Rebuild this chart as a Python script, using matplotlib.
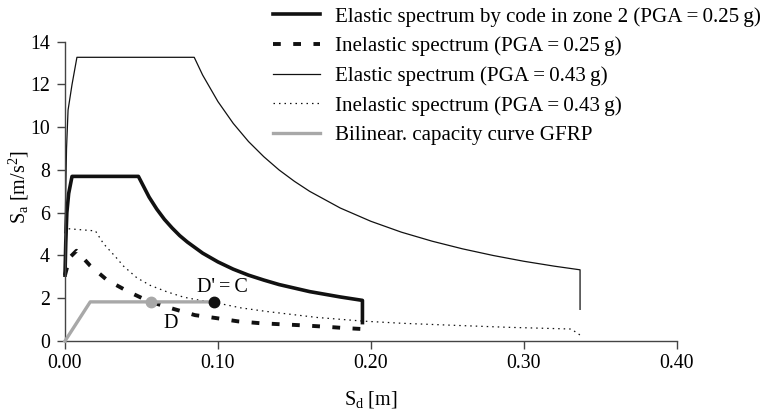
import matplotlib
matplotlib.use("Agg")
import matplotlib.pyplot as plt

plt.rcParams['font.family'] = ['Liberation Serif', 'DejaVu Serif']
plt.rcParams['mathtext.fontset'] = 'custom'
plt.rcParams['mathtext.rm'] = 'Liberation Serif'
plt.rcParams['mathtext.it'] = 'Liberation Serif:italic'

# Elastic spectrum by code in zone 2 (PGA = 0.25 g)
el25_sd = [0.0, 0.0005, 0.0012, 0.0024, 0.0046, 0.048, 0.055, 0.06, 0.065, 0.07, 0.075, 0.08,
           0.09, 0.10, 0.11, 0.12, 0.13, 0.14, 0.16, 0.18, 0.1945, 0.1945]
el25_sa = [3.08, 4.6, 6.0, 6.9, 7.7, 7.7, 6.73, 6.17, 5.69, 5.29, 4.93, 4.63,
           4.11, 3.70, 3.36, 3.08, 2.85, 2.64, 2.31, 2.06, 1.90, 0.86]

# Inelastic spectrum (PGA = 0.25 g)
in25_sd = [0.0, 0.003, 0.0075, 0.0165, 0.0275, 0.0414, 0.055, 0.071, 0.085, 0.099, 0.113,
           0.128, 0.142, 0.156, 0.170, 0.184, 0.1945, 0.1945]
in25_sa = [3.08, 3.9, 4.22, 3.52, 2.85, 2.31, 1.85, 1.50, 1.21, 1.07, 0.92,
           0.83, 0.78, 0.73, 0.67, 0.60, 0.56, 0.28]

# Elastic spectrum (PGA = 0.43 g)
el43_sd = [0.0, 0.001, 0.002, 0.0046, 0.0078, 0.0845, 0.09, 0.10, 0.11, 0.12, 0.13, 0.14,
           0.15, 0.16, 0.18, 0.20, 0.22, 0.24, 0.26, 0.28, 0.30, 0.32, 0.3368, 0.3368]
el43_sa = [5.06, 9.0, 10.8, 12.0, 13.27, 13.27, 12.44, 11.2, 10.18, 9.33, 8.62, 8.0,
           7.47, 7.0, 6.22, 5.6, 5.09, 4.67, 4.31, 4.0, 3.73, 3.5, 3.33, 1.48]

# Inelastic spectrum (PGA = 0.43 g)
in43_sd = [0.0, 0.0024, 0.0199, 0.0252, 0.0329, 0.0383, 0.0471, 0.0558, 0.0667, 0.0776,
           0.0885, 0.0993, 0.115, 0.132, 0.165, 0.195, 0.22, 0.252, 0.29, 0.331, 0.3368]
in43_sa = [5.06, 5.25, 5.15, 4.55, 3.95, 3.5, 2.95, 2.6, 2.3, 2.05,
           1.9, 1.78, 1.55, 1.38, 1.10, 0.93, 0.83, 0.74, 0.64, 0.56, 0.28]

# Bilinear capacity curve GFRP
cap_sd = [0.0, 0.0165, 0.0968]
cap_sa = [0.0, 1.83, 1.83]

pt_D = (0.056, 1.83)
pt_C = (0.0975, 1.83)

labels = ["Elastic spectrum by code in zone 2 (PGA\u2009=\u20090.25\u2009g)",
          "Inelastic spectrum (PGA\u2009=\u20090.25\u2009g)",
          "Elastic spectrum (PGA\u2009=\u20090.43\u2009g)",
          "Inelastic spectrum (PGA\u2009=\u20090.43\u2009g)",
          "Bilinear. capacity curve GFRP"]

fig = plt.figure(figsize=(7.63, 4.13), dpi=100)
ax = fig.add_axes([65/763, 1-341/413, (676.7-65)/763, (341-41.7)/413])

h1, = ax.plot(el25_sd, el25_sa, color='#111111', lw=2.6, clip_on=False, solid_joinstyle='round')
h2, = ax.plot(in25_sd, in25_sa, color='#111111', lw=2.8, clip_on=False)
h2.set_dashes((2.0, 3.2))
h3, = ax.plot(el43_sd, el43_sa, color='#111111', lw=0.9, clip_on=False)
h4, = ax.plot(in43_sd, in43_sa, color='#111111', lw=0.9, ls=(0, (1.2, 3.2)), clip_on=False)
h5, = ax.plot(cap_sd, cap_sa, color='#a8a8a8', lw=2.4, clip_on=False, zorder=3)
ax.plot([pt_D[0]], [pt_D[1]], 'o', color='#a8a8a8', ms=7.5, zorder=4)
ax.plot([pt_C[0]], [pt_C[1]], 'o', color='#111111', ms=7.5, zorder=4)

ax.text(0.1028, 2.52, "D'\u2009=\u2009C", fontsize=14.5, ha='center', va='center')
ax.text(0.0688, 0.83, "D", fontsize=14.5, ha='center', va='center')

ax.set_xlim(0, 0.4)
ax.set_ylim(0, 14)
ax.set_xticks([0.0, 0.1, 0.2, 0.3, 0.4])
ax.set_xticklabels(["0.00", "0.10", "0.20", "0.30", "0.40"])
ax.set_yticks(range(0, 15, 2))
for s in ['top', 'right']:
    ax.spines[s].set_visible(False)
for s in ['left', 'bottom']:
    ax.spines[s].set_color('#444444')
    ax.spines[s].set_linewidth(1.0)
ax.tick_params(axis='both', direction='out', length=5.5, width=1.0, color='#444444',
               labelsize=14.3)
ax.tick_params(axis='y', pad=5.5)
ax.tick_params(axis='x', pad=4)

ax.set_ylabel(r"S$_\mathregular{a}$ [m/s$^\mathregular{2}$]", fontsize=14.5)
ax.set_xlabel(r"S$_\mathregular{d}$ [m]", fontsize=14.5)
ax.yaxis.set_label_coords(-0.056, 0.515)
ax.xaxis.set_label_coords(0.5, -0.16)

fig.legend([h1, h2, h3, h4, h5], labels, loc='upper left',
           bbox_to_anchor=(273/763, 1-7/413), frameon=False, fontsize=15.1,
           handlelength=2.25, handletextpad=0.72, labelspacing=0.47,
           borderpad=0, borderaxespad=0)

fig.savefig("out.png", dpi=100)
